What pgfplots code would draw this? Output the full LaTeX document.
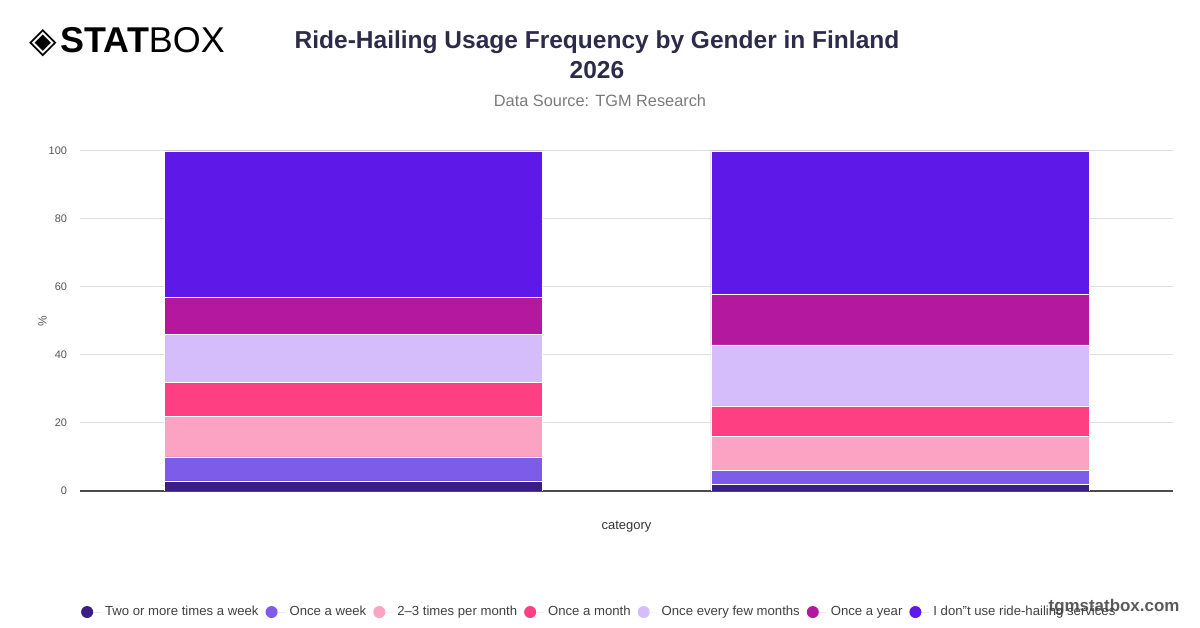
\documentclass[border=0pt]{standalone}
\usepackage{pgfplots}
\pgfplotsset{compat=1.18}
\usepackage{fontspec}
\setmainfont{Liberation Sans}
\newfontfamily\symfont{DejaVu Sans}
\definecolor{cA}{HTML}{3A1E85}
\definecolor{cB}{HTML}{7C5CE9}
\definecolor{cC}{HTML}{FCA3C3}
\definecolor{cD}{HTML}{FE3F82}
\definecolor{cE}{HTML}{D5BDFB}
\definecolor{cF}{HTML}{B4189F}
\definecolor{cG}{HTML}{5E19E9}
\definecolor{titlec}{HTML}{2E2B4A}
\definecolor{subc}{HTML}{7A7A7A}
\definecolor{tickc}{HTML}{555555}
\begin{document}
\begin{tikzpicture}
\path[use as bounding box] (0,0) rectangle (600bp,314bp);
% header
\node[anchor=west,font=\fontsize{18}{20}\selectfont] at (11bp,293bp) {{\symfont ◈}\hspace{2bp}\textbf{STAT}BOX};
\node[align=center,text=titlec,font=\fontsize{12.3}{15}\selectfont\bfseries] at (298.5bp,286.5bp) {Ride-Hailing Usage Frequency by Gender in Finland\\2026};
\node[text=subc,font=\fontsize{8.2}{10}\selectfont] at (300bp,263.5bp) {Data Source: TGM Research};
\node[text=black!65,font=\fontsize{8.5}{10}\selectfont\bfseries] at (557bp,10.5bp) {tgmstatbox.com};
\begin{axis}[
  at={(40bp,68.5bp)}, anchor=south west,
  scale only axis, width=546.5bp, height=170bp,
  ybar stacked, bar width=189bp,
  xmin=-0.5, xmax=1.5, ymin=0, ymax=100,
  xtick=\empty,
  ytick={0,20,40,60,80,100},
  ymajorgrids, grid style={color=black!13, line width=0.5bp},
  axis x line*=bottom, axis y line*=left,
  x axis line style={-, color=black!70, line width=0.8bp},
  y axis line style={draw=none},
  major tick length=0pt,
  /pgf/number format/assume math mode=true,
  yticklabel style={font=\fontsize{5.5}{6}\selectfont, text=tickc, xshift=-3bp},
  xlabel={category},
  xlabel style={font=\fontsize{6.5}{8}\selectfont, text=black!80, yshift=-11.5bp},
  ylabel={\%},
  ylabel style={font=\fontsize{6}{7}\selectfont, text=tickc, at={(axis description cs:-0.024,0.5)}},
  legend columns=7,
  legend style={draw=none, fill=none, at={(0.476,-0.356)}, anchor=center,
    font=\fontsize{6.6}{8}\selectfont, text=black!75,
    /tikz/every even column/.append style={column sep=1.5bp}},
  legend image code/.code={\fill[draw=none] (0bp,0bp) circle (3bp); \path[draw=none] (-3bp,0bp) -- (7bp,0bp);},
  every axis plot/.append style={draw=white, line width=0.2bp},
]
\addplot[fill=cA] coordinates {(0,3) (1,2)};
\addplot[fill=cB] coordinates {(0,7) (1,4)};
\addplot[fill=cC] coordinates {(0,12) (1,10)};
\addplot[fill=cD] coordinates {(0,10) (1,9)};
\addplot[fill=cE] coordinates {(0,14) (1,18)};
\addplot[fill=cF] coordinates {(0,11) (1,15)};
\addplot[fill=cG] coordinates {(0,43) (1,42)};
\legend{Two or more times a week, Once a week, 2–3 times per month, Once a month, Once every few months, Once a year, I don''t use ride-hailing services}
\end{axis}
\end{tikzpicture}
\end{document}
